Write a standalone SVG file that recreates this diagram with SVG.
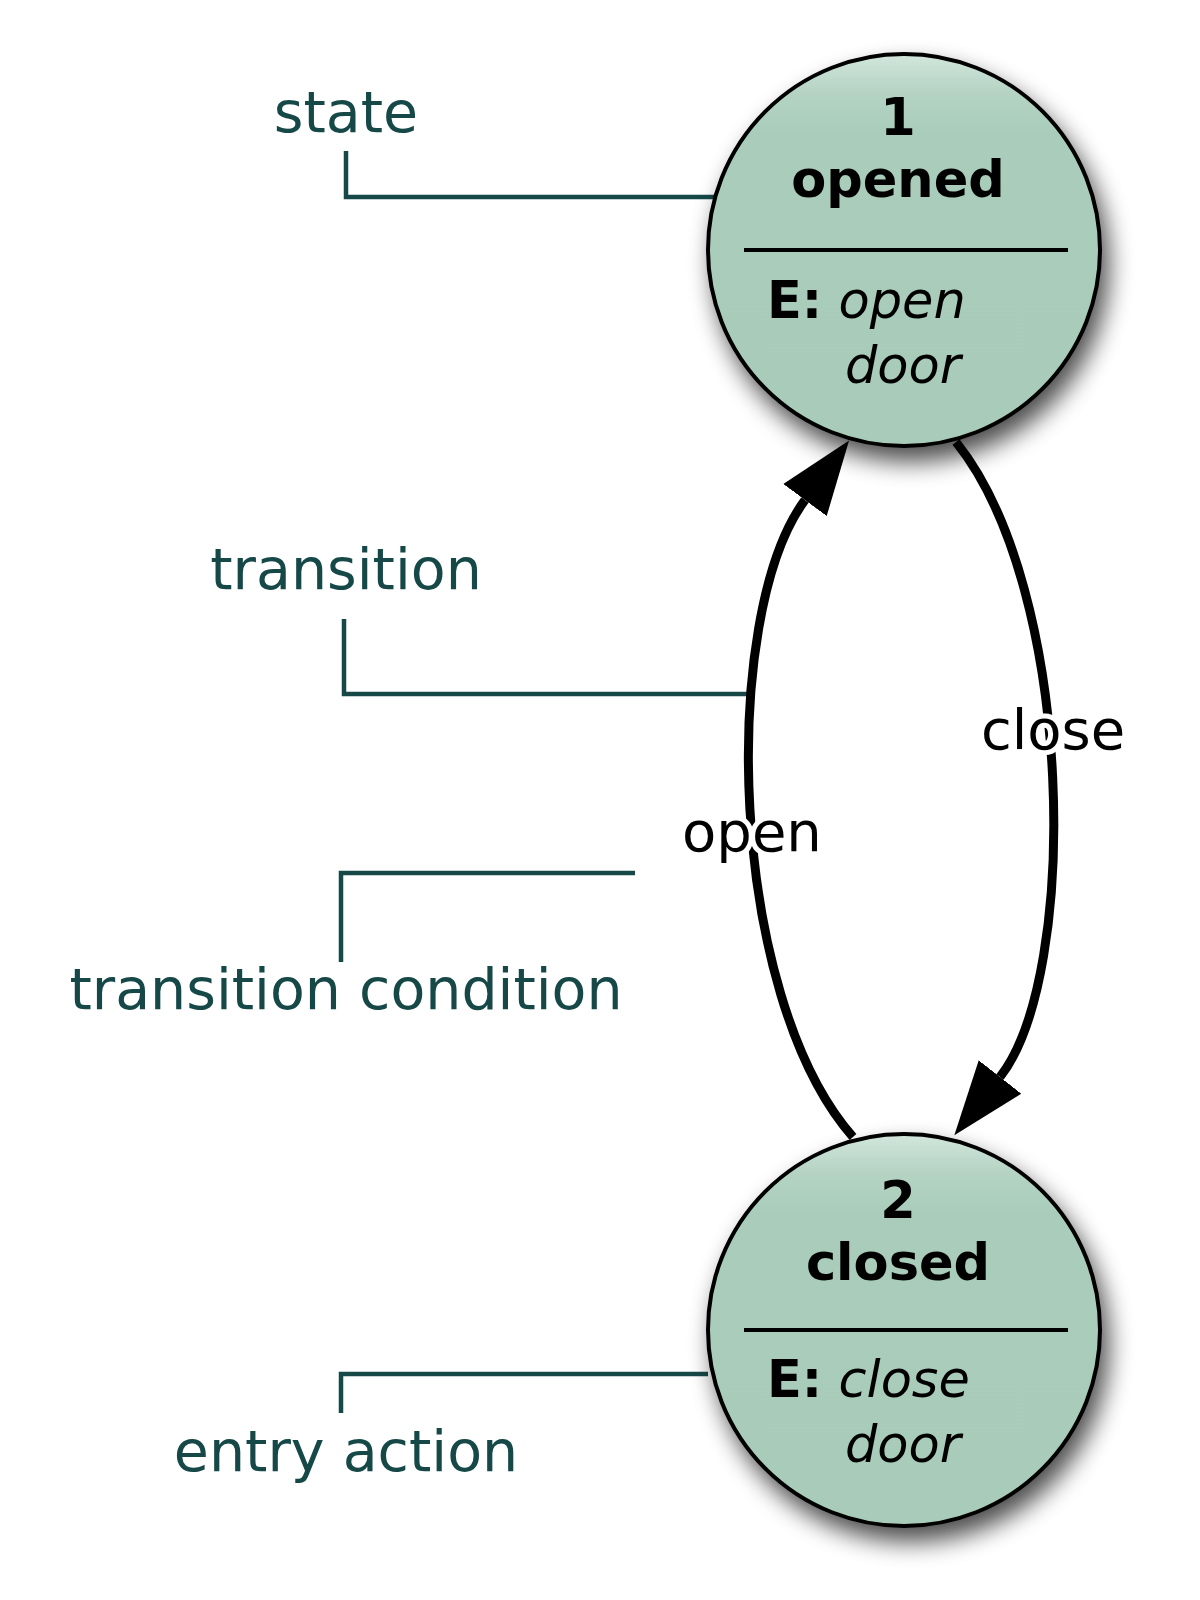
<svg xmlns="http://www.w3.org/2000/svg" width="1200" height="1600" viewBox="0 0 1200 1600">
  <defs>
    <linearGradient id="nodeFill" x1="0" y1="0" x2="0" y2="1">
      <stop offset="0" stop-color="#d2e6dc"/>
      <stop offset="0.1" stop-color="#b4d3c3"/>
      <stop offset="0.2" stop-color="#aacdbb"/>
      <stop offset="1" stop-color="#a9cbb9"/>
    </linearGradient>
    <filter id="shadow" x="-30%" y="-30%" width="160%" height="160%">
      <feGaussianBlur in="SourceAlpha" stdDeviation="12"/>
      <feOffset dx="7" dy="14" result="b"/>
      <feComponentTransfer>
        <feFuncA type="linear" slope="0.7"/>
      </feComponentTransfer>
      <feMerge>
        <feMergeNode/>
        <feMergeNode in="SourceGraphic"/>
      </feMerge>
    </filter>
    <marker id="arrow" markerUnits="userSpaceOnUse" markerWidth="76" markerHeight="56" viewBox="0 0 76 56" refX="0" refY="28" orient="auto">
      <path d="M0,1 L74,28 L0,55 z" fill="#000"/>
    </marker>
  </defs>
  <style>
    .node-circle { fill: url(#nodeFill); stroke: #000; stroke-width: 4; }
    .divider { stroke: #000; stroke-width: 4; }
    .nt { font-family: "DejaVu Sans", sans-serif; font-size: 51px; fill: #000; }
    .b { font-weight: bold; }
    .i { font-style: oblique; }
    .edge { fill: none; stroke: #000; stroke-width: 9; }
    .elabel { font-family: "DejaVu Sans", sans-serif; font-size: 56px; fill: #000; stroke: #fff; stroke-width: 10; paint-order: stroke; stroke-linejoin: round; }
    .ann { fill: none; stroke: #164848; stroke-width: 4.5; }
    .atext { font-family: "DejaVu Sans", sans-serif; font-size: 57px; fill: #164848; text-anchor: middle; }
  </style>
  <rect width="1200" height="1600" fill="#fff"/>

  <g id="annotations">
    <g id="ann-state">
      <text class="atext" x="346" y="132">state</text>
      <path class="ann" d="M346 151 V197 H719"/>
    </g>
    <g id="ann-transition">
      <text class="atext" x="346" y="589">transition</text>
      <path class="ann" d="M344 619 V694 H755"/>
    </g>
    <g id="ann-condition">
      <text class="atext" x="346" y="1009">transition condition</text>
      <path class="ann" d="M341 962 V873 H635"/>
    </g>
    <g id="ann-entry">
      <text class="atext" x="346" y="1471">entry action</text>
      <path class="ann" d="M341 1413 V1374 H708"/>
    </g>
  </g>

  <g id="connectors">
    <path id="edge-open" class="edge" d="M853 1137 C728 995, 719 616, 805 500" marker-end="url(#arrow)"/>
    <path id="edge-close" class="edge" d="M956 442 C1075 590, 1080 975, 1000 1077" marker-end="url(#arrow)"/>
    <text class="elabel" x="752" y="851" text-anchor="middle">open</text>
    <text class="elabel" x="1053" y="749" text-anchor="middle">close</text>
  </g>

  <g id="node-1" filter="url(#shadow)">
    <circle class="node-circle" cx="904" cy="250" r="196"/>
    <line class="divider" x1="744" y1="250" x2="1068" y2="250"/>
    <text class="nt b" x="898" y="135" text-anchor="middle">1</text>
    <text class="nt b" x="898" y="197" text-anchor="middle">opened</text>
    <text class="nt" x="767" y="318"><tspan class="b">E:</tspan> <tspan class="i">open</tspan></text>
    <text class="nt i" x="845" y="383">door</text>
  </g>

  <g id="node-2" filter="url(#shadow)">
    <circle class="node-circle" cx="904" cy="1330" r="196"/>
    <line class="divider" x1="744" y1="1330" x2="1068" y2="1330"/>
    <text class="nt b" x="898" y="1218" text-anchor="middle">2</text>
    <text class="nt b" x="898" y="1280" text-anchor="middle">closed</text>
    <text class="nt" x="767" y="1397"><tspan class="b">E:</tspan> <tspan class="i">close</tspan></text>
    <text class="nt i" x="845" y="1462">door</text>
  </g>
</svg>
